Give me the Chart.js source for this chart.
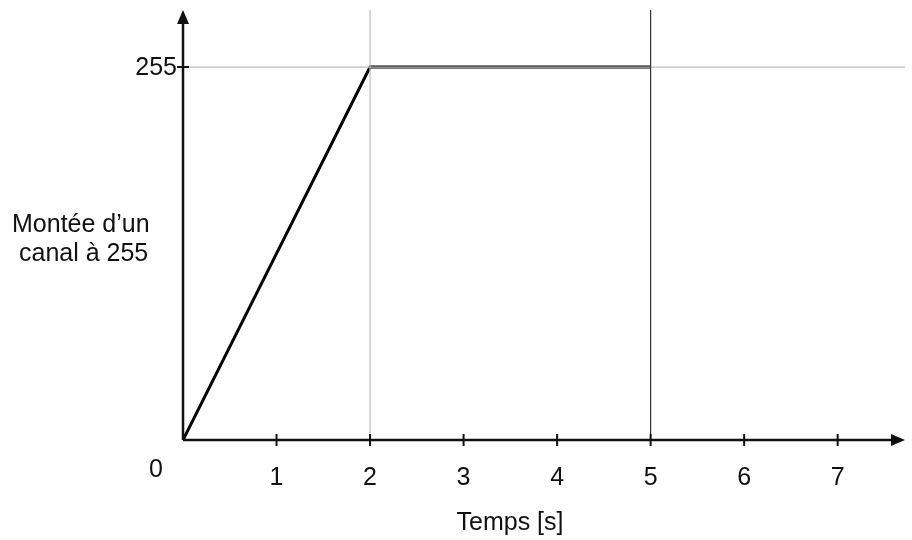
<!DOCTYPE html>
<html><head><meta charset="utf-8">
<script src="https://cdn.jsdelivr.net/npm/chart.js@4"></script>
<style>body{margin:0;background:#fff}#wrap{width:912px;height:540px}</style>
</head><body><div id="wrap"><canvas id="c"></canvas></div>
<script>
// ramp of one channel up to 255, then hold
var timeS = [0, 2, 5];
var level = [0, 255, 255];
var xTicks = [1, 2, 3, 4, 5, 6, 7];
var yTicks = [255];
var xMax = 7.72, yMax = 294;

var axesPlugin = {
    id: 'axesPlugin',
    afterDraw: function(chart) {
        var ctx = chart.ctx, xs = chart.scales.x, ys = chart.scales.y;
        var x0 = xs.getPixelForValue(0), y0 = ys.getPixelForValue(0);
        var xe = xs.getPixelForValue(xMax), ye = ys.getPixelForValue(yMax);
        ctx.save();
        ctx.strokeStyle = '#111'; ctx.fillStyle = '#111'; ctx.lineWidth = 2.5;
        ctx.beginPath(); ctx.moveTo(x0, y0); ctx.lineTo(xe - 8, y0); ctx.stroke();
        ctx.beginPath(); ctx.moveTo(x0, y0); ctx.lineTo(x0, ye + 8); ctx.stroke();
        // arrow heads
        ctx.beginPath(); ctx.moveTo(xe, y0); ctx.lineTo(xe - 14, y0 - 6); ctx.lineTo(xe - 14, y0 + 6); ctx.closePath(); ctx.fill();
        ctx.beginPath(); ctx.moveTo(x0, ye); ctx.lineTo(x0 - 6, ye + 14); ctx.lineTo(x0 + 6, ye + 14); ctx.closePath(); ctx.fill();
        ctx.lineWidth = 2;
        ctx.font = '25px "Liberation Sans", Arial, sans-serif';
        ctx.textAlign = 'center'; ctx.textBaseline = 'middle';
        xTicks.forEach(function(t) {
            var p = xs.getPixelForValue(t);
            ctx.beginPath(); ctx.moveTo(p, y0 - 6); ctx.lineTo(p, y0 + 6); ctx.stroke();
            ctx.fillText(String(t), p, y0 + 38);
        });
        ctx.textAlign = 'right';
        yTicks.forEach(function(t) {
            var p = ys.getPixelForValue(t);
            ctx.beginPath(); ctx.moveTo(x0 - 6, p); ctx.lineTo(x0 + 6, p); ctx.stroke();
            ctx.fillText(String(t), x0 - 6, p + 1);
        });
        ctx.fillText('0', x0 - 20, y0 + 30);
        ctx.textAlign = 'left';
        ctx.fillText('Montée d\u2019un', 12, 225);
        ctx.fillText('canal à 255', 19, 254);
        ctx.textAlign = 'center';
        ctx.fillText('Temps [s]', 510, 523);
        ctx.restore();
    }
};

new Chart(document.getElementById('c'), {
    type: 'line',
    data: {
        datasets: [{
            data: [{x: 2, y: 0}, {x: 2, y: yMax}],
            borderColor: '#bbb', borderWidth: 1.2, pointRadius: 0
        }, {
            data: [{x: 5, y: 0}, {x: 5, y: yMax}],
            borderColor: '#333', borderWidth: 1.2, pointRadius: 0
        }, {
            data: [{x: 0, y: 255}, {x: xMax, y: 255}],
            borderColor: '#bbb', borderWidth: 1.2, pointRadius: 0
        }, {
            data: timeS.map(function(t, i) { return {x: t, y: level[i]}; }),
            borderColor: '#000', borderWidth: 3, pointRadius: 0, tension: 0
        }]
    },
    plugins: [axesPlugin],
    options: {
        responsive: true, maintainAspectRatio: false, animation: false,
        layout: {padding: {left: 183, right: 7, top: 10, bottom: 100}},
        plugins: {legend: {display: false}, tooltip: {enabled: false}},
        scales: {
            x: {type: 'linear', min: 0, max: xMax, display: false},
            y: {type: 'linear', min: 0, max: yMax, display: false}
        }
    }
});
</script></body></html>
